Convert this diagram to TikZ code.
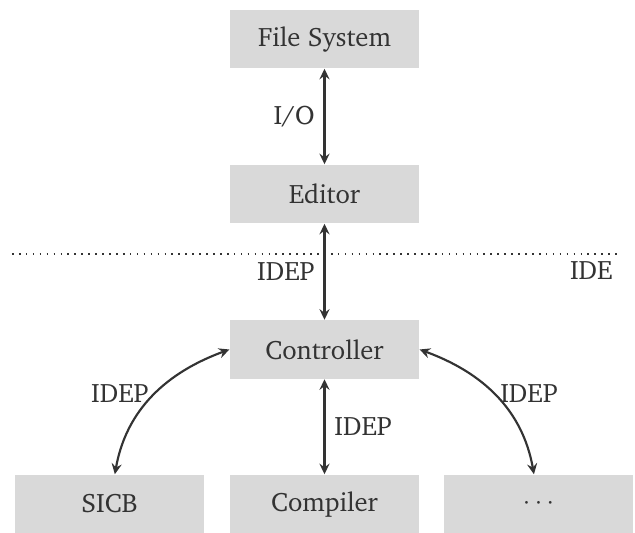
\documentclass[tikz,border=0pt]{standalone}
\usepackage[T1]{fontenc}
\usepackage{charter}
\usetikzlibrary{arrows.meta}
\definecolor{boxgray}{RGB}{217,217,217}
\definecolor{linegray}{RGB}{51,51,51}

\begin{document}
\begin{tikzpicture}[x=0.375pt, y=-0.375pt,
		box/.style={fill=boxgray, minimum width=70.9pt, minimum height=21.9pt, inner sep=0pt, text=linegray},
		conn/.style={>={Stealth[length=4pt, width=3.8pt, inset=1.4pt]}, <->, line width=0.8pt, color=linegray},
		lbl/.style={text=linegray}]
		%%%%% START %%%%%
		
		\useasboundingbox (0, 0) rectangle (635, 533);
		
		\node[box] (fs) at (324.5, 39) {File System};
		\node[box] (ed) at (324.5, 194) {Editor};
		\node[box] (ctrl) at (324.5, 349.5) {Controller};
		
		\node[box] (sicb) at (109.5, 504) {SICB};
		\node[box] (comp) at (324.5, 504) {Compiler};
		\node[box] (more) at (538.5, 504) {$\cdots$};
		
		\coordinate (sepL) at (12, 254);
		\coordinate (sepR) at (622, 254);
		\draw[dotted, line width=0.6pt, color=linegray] (sepL) -- (sepR);
		\node[lbl, anchor=east] (ide) at (622, 270) {IDE};
		
		\draw[conn] (fs) -- node[lbl, left] (io) {I/O} (ed);
		\draw[conn] (ed) -- node[lbl, left] (idepTop) {IDEP} (ctrl);
		\draw[conn] (ctrl) -- node[lbl, right] (idepMid) {IDEP} (comp);
		
		\draw[conn] ([xshift=2pt]sicb.north) to[out=80, in=200] node[lbl, pos=0.52, left, inner sep=2.2pt] (idepLeft) {IDEP} (ctrl.west);
		\draw[conn] (ctrl.east) to[out=-20, in=100] node[lbl, pos=0.48, right, inner sep=2.2pt] (idepRight) {IDEP} ([xshift=-1.7pt]more.north);
		
		%%%%% END %%%%%
	\end{tikzpicture}
\end{document}
